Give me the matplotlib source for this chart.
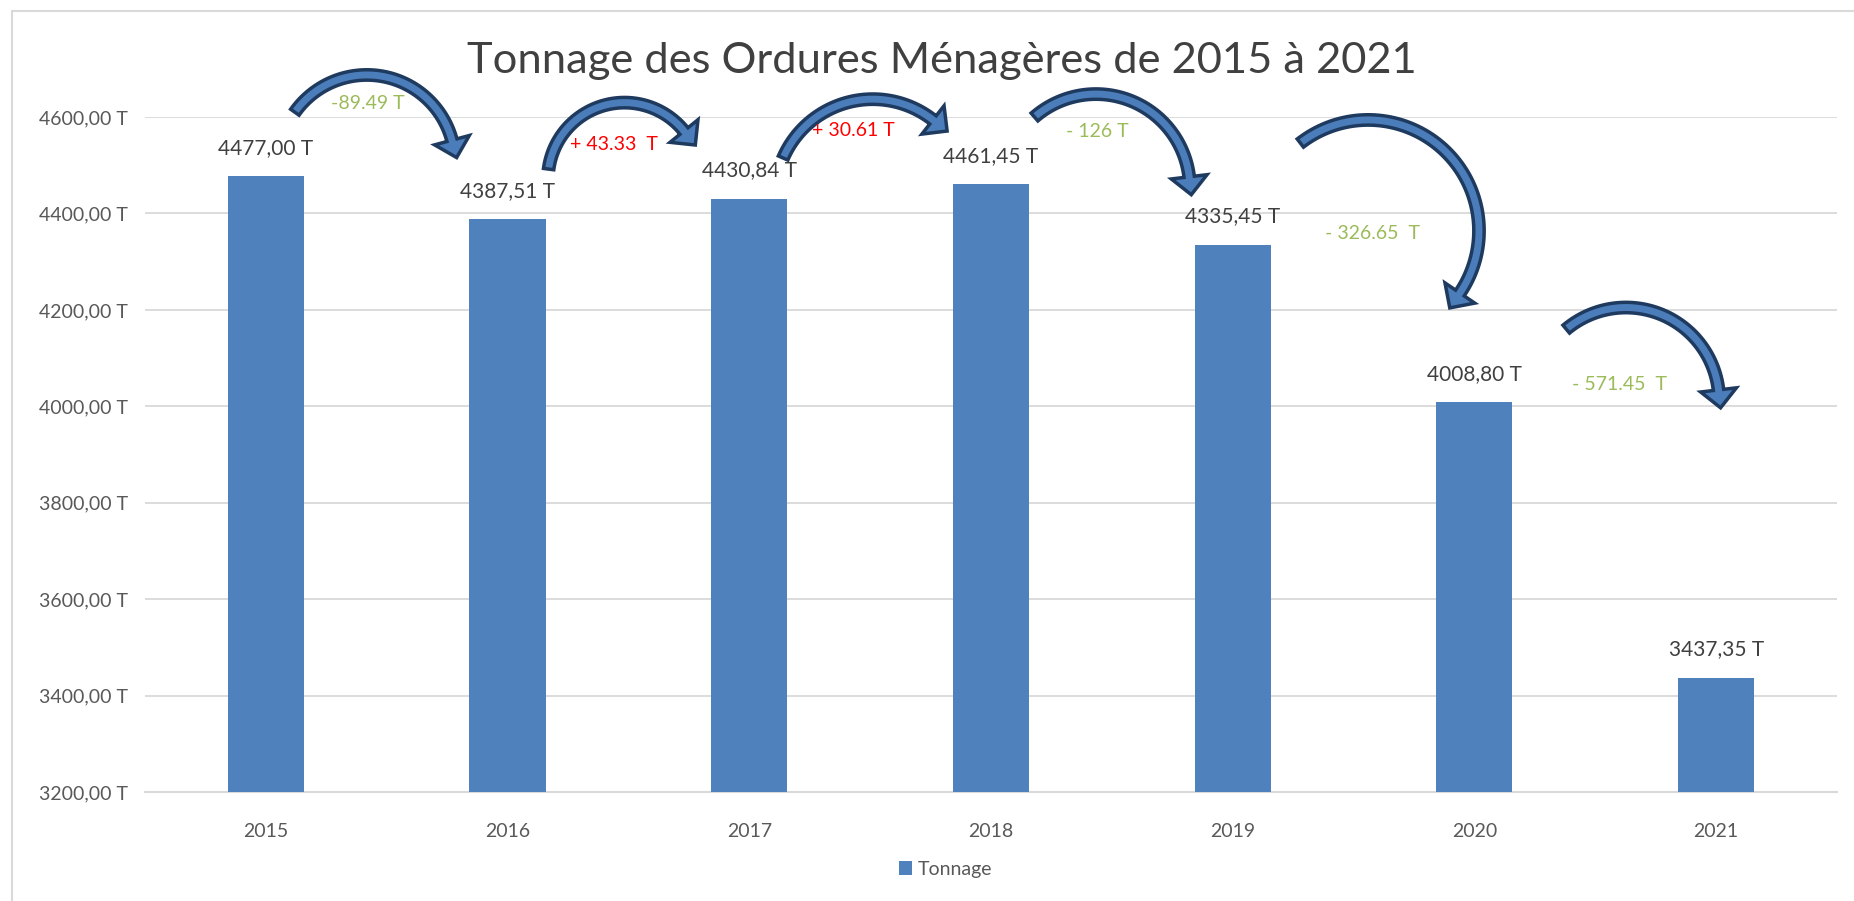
import numpy as np
import matplotlib.pyplot as plt
from matplotlib.patches import Polygon, Rectangle

# --- Data ---
YEARS = ['2015', '2016', '2017', '2018', '2019', '2020', '2021']
TONNAGE = [4477.00, 4387.51, 4430.84, 4461.45, 4335.45, 4008.80, 3437.35]
CHANGE_TEXT = ['-89.49 T', '+ 43.33  T', '+ 30.61 T', '- 126 T', '- 326.65  T', '- 571.45  T']
CHANGE_UP = [False, True, True, False, False, False]
Y_TICKS = [3200, 3400, 3600, 3800, 4000, 4200, 4400, 4600]

# --- Layout of the hand drawn curved arrows: (offset from bar index, value)
# tail end, a point on the arc, and the base of the arrow head
ARROW_TAIL = [(0.12, 4610), (0.17, 4492), (0.14, 4515), (0.18, 4600), (0.28, 4546), (0.38, 4160)]
ARROW_MID = [(0.36, 4685), (0.45, 4629), (0.50, 4637), (0.36, 4644), (0.50, 4592), (0.59, 4204)]
ARROW_HEAD = [(0.77, 4552), (0.73, 4571), (0.76, 4594), (0.82, 4476), (0.94, 4235), (1.01, 4034)]
LABEL_POS = [(0.42, 4629), (0.44, 4544), (0.43, 4573), (0.44, 4569), (0.58, 4358), (0.60, 4045)]

BAR_COLOR = '#4F81BD'
ARROW_FILL = '#4A7DBA'
ARROW_EDGE = '#1F3A5F'
GREEN = '#9BBB59'
RED = '#FF0000'

plt.rcParams['font.family'] = ['Lato', 'DejaVu Sans']


def curved_arrow(ax, tail, mid, head, band=5.2, head_hw=18.0, head_len=18.0):
    """Block arrow along the circle through tail, mid and head (all in data coords)."""
    p0, p1, p2 = ax.transData.transform([tail, mid, head])
    # circle through the three points (display pixels)
    a = np.array([[2 * (p1[0] - p0[0]), 2 * (p1[1] - p0[1])],
                  [2 * (p2[0] - p0[0]), 2 * (p2[1] - p0[1])]])
    b = np.array([p1 @ p1 - p0 @ p0, p2 @ p2 - p0 @ p0])
    c = np.linalg.solve(a, b)
    r = np.hypot(*(p0 - c))
    t0, t1, t2 = [np.arctan2(p[1] - c[1], p[0] - c[0]) for p in (p0, p1, p2)]
    d1 = (t1 - t0) % (2 * np.pi)
    d2 = (t2 - t0) % (2 * np.pi)
    sweep = d2 if d1 < d2 else d2 - 2 * np.pi
    th = t0 + np.linspace(0, sweep, 80)
    u = np.column_stack([np.cos(th), np.sin(th)])
    outer = c + (r + band) * u
    inner = c + (r - band) * u
    ue = u[-1]
    tang = np.array([-ue[1], ue[0]]) * np.sign(sweep)
    base = c + r * ue
    tip = base + tang * head_len
    pts = np.vstack([outer, base + ue * head_hw, tip, base - ue * head_hw, inner[::-1]])
    pts = ax.transData.inverted().transform(pts)
    ax.add_patch(Polygon(pts, closed=True, facecolor=ARROW_FILL, edgecolor=ARROW_EDGE,
                         linewidth=2.5, joinstyle='miter', clip_on=False, zorder=5))


fig = plt.figure(figsize=(18.54, 9.01), dpi=100)
ax = fig.add_axes([0.0782, 0.1210, 0.9126, 0.7491])

x = list(range(len(YEARS)))
bars = ax.bar(x, TONNAGE, width=0.315, color=BAR_COLOR, zorder=3, label='Tonnage')

ax.set_ylim(3200, 4600)
ax.set_xlim(-0.5, len(YEARS) - 0.5)
ax.set_yticks(Y_TICKS)
ax.set_yticklabels([f'{v:.2f} T'.replace('.', ',') for v in Y_TICKS])
ax.set_xticks(x)
ax.set_xticklabels(YEARS)
ax.tick_params(length=0, labelsize=14, colors='#595959', pad=12)
ax.tick_params(axis='x', pad=22)
ax.grid(axis='y', color='#D9D9D9', linewidth=1.3, zorder=0)
for side in ['top', 'right', 'left']:
    ax.spines[side].set_visible(False)
ax.spines['bottom'].set_color('#D9D9D9')
ax.spines['bottom'].set_linewidth(1.5)

# value labels over the bars
for i, v in enumerate(TONNAGE):
    ax.annotate(f'{v:.2f} T'.replace('.', ','), (i, v), xytext=(0, 13),
                textcoords='offset points', ha='center', va='bottom',
                fontsize=15, color='#404040', clip_on=False)

# curved arrows with the year to year change
for i in range(len(CHANGE_TEXT)):
    tail = (i + ARROW_TAIL[i][0], ARROW_TAIL[i][1])
    mid = (i + ARROW_MID[i][0], ARROW_MID[i][1])
    head = (i + ARROW_HEAD[i][0], ARROW_HEAD[i][1])
    curved_arrow(ax, tail, mid, head)
    lx, ly = LABEL_POS[i]
    ax.text(i + lx, ly, CHANGE_TEXT[i], ha='center', va='center', fontsize=14,
            color=RED if CHANGE_UP[i] else GREEN, clip_on=False, zorder=6)

fig.text(0.508, 0.932, 'Tonnage des Ordures Ménagères de 2015 à 2021',
         ha='center', va='center', fontsize=31.3, color='#404040')

fig.legend(handles=[bars], labels=['Tonnage'], loc='center', bbox_to_anchor=(0.510, 0.0355),
           frameon=False, fontsize=14, labelcolor='#595959', handlelength=0.7, handleheight=0.7,
           handletextpad=0.3)

# chart area border (only top and left edges are inside the picture)
fig.patches.append(Rectangle((0.0065, -0.01), 1.1, 0.998, transform=fig.transFigure,
                             fill=False, edgecolor='#D9D9D9', linewidth=1.5))

fig.savefig('out.png', dpi=100)
